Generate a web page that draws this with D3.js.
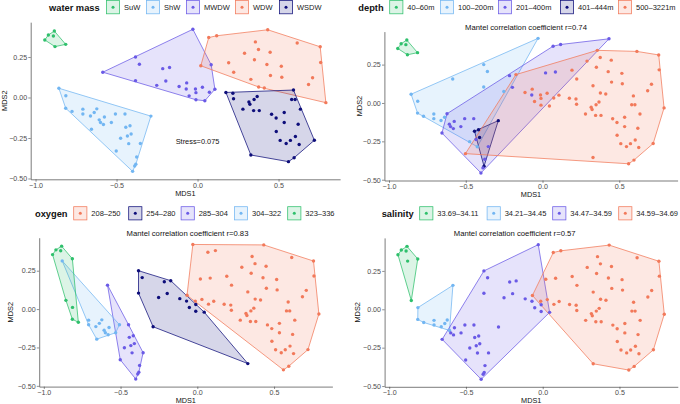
<!DOCTYPE html>
<html><head><meta charset="utf-8">
<script src="https://cdn.jsdelivr.net/npm/d3@7"></script>
<style>body{margin:0;background:#fff}svg{display:block;font-family:"Liberation Sans",Arial,Helvetica,sans-serif}</style>
</head><body><svg id="c" width="680" height="404"></svg>
<script>
// ---- data: NMDS coordinates (same sample set in all four panels) ----
const mds1 = [
 -0.943,-0.921,-0.890,-0.884,-0.880,-0.814,
 -0.856,-0.813,-0.814,-0.775,-0.708,-0.708,-0.661,-0.638,-0.622,-0.607,-0.599,-0.575,-0.581,-0.532,-0.507,
 -0.448,-0.655,-0.443,-0.417,-0.410,-0.433,-0.475,-0.425,-0.353,-0.288,-0.502,-0.376,-0.381,-0.388,-0.401,
 -0.029,-0.383,-0.359,-0.585,-0.215,-0.173,-0.383,-0.252,-0.196,-0.114,-0.067,-0.070,-0.013,0.030,0.084,
 0.107,0.073,-0.052,-0.010,0.045,-0.010,
 0.020,0.069,0.118,0.433,0.615,0.757,0.760,0.357,0.376,0.290,0.448,0.351,0.428,0.517,0.192,0.223,0.450,
 0.520,0.329,0.710,0.685,0.377,0.412,0.792,
 0.175,0.218,0.222,0.317,0.323,0.349,0.368,0.280,0.346,0.381,0.457,0.485,0.535,0.535,0.592,0.581,0.602,
 0.635,0.621,0.486,0.510,0.547,0.573,0.604,0.627,0.721,0.596,0.561,0.329
];
const mds2 = [
 0.355,0.386,0.380,0.410,0.314,0.328,
 0.057,0.011,-0.066,-0.086,-0.072,-0.102,-0.114,-0.093,-0.070,-0.138,-0.154,-0.120,-0.167,-0.154,-0.102,
 -0.102,-0.196,-0.184,-0.174,-0.225,-0.238,-0.252,-0.285,-0.284,-0.115,-0.330,-0.367,-0.412,-0.423,-0.456,
 0.421,0.250,0.205,0.156,0.178,0.185,0.104,0.075,0.102,0.068,0.090,0.052,0.052,0.063,0.202,
 0.051,0.032,0.010,0.030,-0.020,-0.014,
 0.196,0.370,0.381,0.418,0.336,0.313,0.216,0.343,0.296,0.273,0.279,0.233,0.204,0.193,0.214,0.156,0.136,
 0.125,0.112,0.122,0.080,0.065,0.059,-0.032,
 0.031,0.026,-0.008,-0.028,-0.042,-0.012,0.006,-0.072,-0.081,-0.081,-0.103,-0.127,-0.093,-0.154,0.046,-0.012,-0.012,
 -0.072,-0.165,-0.210,-0.265,-0.284,-0.265,-0.241,-0.290,-0.264,-0.372,-0.396,-0.355
];
// group memberships (index into the level arrays)
const waterMass = [
 0,0,0,0,0,0,
 1,1,1,1,1,1,1,1,1,1,1,1,1,1,1,1,1,1,1,1,1,1,1,1,1,1,1,1,1,1,
 2,2,2,2,2,2,2,2,2,2,2,2,2,2,2,2,2,2,2,2,2,
 3,3,3,3,3,3,3,3,3,3,3,3,3,3,3,3,3,3,3,3,3,3,3,3,
 4,4,4,4,4,4,4,4,4,4,4,4,4,4,4,4,4,4,4,4,4,4,4,4,4,4,4,4,4
];
const depth = [
 0,0,0,0,0,0,
 1,1,1,1,1,1,1,1,2,2,2,2,2,2,2,2,2,3,3,3,2,1,1,2,3,4,2,3,2,2,
 1,1,1,1,2,4,1,1,2,4,4,2,4,4,2,4,4,4,4,4,4,
 2,2,2,2,4,4,4,4,4,4,4,4,4,4,4,4,4,4,4,4,4,4,4,4,
 4,4,4,4,4,4,4,4,4,4,4,4,4,4,4,4,4,4,4,4,4,4,4,4,4,4,4,4,4
];
const oxygen = [
 4,4,4,4,3,4,
 4,4,4,4,3,3,3,3,3,3,3,3,3,3,3,2,3,2,2,2,2,2,2,2,1,2,2,2,2,2,
 0,1,1,2,1,1,1,1,1,1,0,1,0,0,0,0,0,1,1,1,1,
 0,0,0,0,0,0,0,0,0,0,0,0,0,0,0,0,0,0,0,0,0,0,0,0,
 0,0,0,0,0,0,0,0,0,0,0,0,0,0,0,0,0,0,0,0,0,0,0,0,0,0,0,0,1
];
const salinity = [
 0,0,0,0,0,0,
 0,1,1,1,1,1,1,1,1,1,2,2,2,2,2,2,2,2,2,2,2,2,2,2,2,2,2,2,2,2,
 2,2,2,1,2,2,2,2,2,2,3,2,3,3,3,3,3,2,2,2,2,
 3,3,3,3,3,3,3,3,3,3,3,3,3,3,3,3,3,3,3,3,3,3,3,3,
 3,3,3,3,3,3,3,3,3,3,3,3,3,3,3,3,3,3,3,3,3,3,3,3,3,3,3,3,3
];
const waterMassLevels = ["SuW","ShW","MWDW","WDW","WSDW"];
const depthLevels = ["40–60m","100–200m","201–400m","401–444m","500–3221m"];
const oxygenLevels = ["208–250","254–280","285–304","304–322","323–336"];
const salinityLevels = ["33.69–34.11","34.21–34.45","34.47–34.59","34.59–34.69"];
const mantelR = [0.74, 0.83, 0.57];   // depth, oxygen, salinity
const stressValue = 0.075;
const xTicks = [-1.0, -0.5, 0.0, 0.5];
const yTicks = [-0.50, -0.25, 0.00, 0.25];

// ---- styling / layout ----
const COL = {green:"#2fc06c", lblue:"#72b6f2", purple:"#6a5ae6", orange:"#f2795a", navy:"#0e0e7a"};
const FONT = '"Liberation Sans",Arial,Helvetica,sans-serif';
const panels = [
 {title:"water mass", levels:waterMassLevels, groups:waterMass,
  colors:[COL.green,COL.lblue,COL.purple,COL.orange,COL.navy],
  L:30.7, B:179.3, k:162, titleX:49, keyX:[106,146,186,235,279], legY:7.2,
  sub:null, subX:0, subY:0, yTitleX:6.5},
 {title:"depth", levels:depthLevels, groups:depth,
  colors:[COL.green,COL.lblue,COL.purple,COL.navy,COL.orange],
  L:384.4, B:180.5, k:153.5, titleX:358.3, keyX:[389.3,440,498,560,618], legY:7.2,
  sub:"Mantel correlation coefficient r=" + mantelR[0], subX:526, subY:29.5, yTitleX:362},
 {title:"oxygen", levels:oxygenLevels, groups:oxygen,
  colors:[COL.orange,COL.navy,COL.purple,COL.lblue,COL.green],
  L:39.2, B:386.6, k:153.5, titleX:35, keyX:[73.3,128.3,180.7,234,287.3], legY:213.3,
  sub:"Mantel correlation coefficient r=" + mantelR[1], subX:187.5, subY:236, yTitleX:13.4},
 {title:"salinity", levels:salinityLevels, groups:salinity,
  colors:[COL.green,COL.lblue,COL.purple,COL.orange],
  L:384.6, B:386.8, k:153.5, titleX:381.7, keyX:[419.3,486.7,552.3,618.3], legY:213.3,
  sub:"Mantel correlation coefficient r=" + mantelR[2], subX:514.7, subY:236, yTitleX:359.5}
];
const XD = [-1.03, 0.88], YD = [-0.505, 0.465];
const svg = d3.select("#c");

panels.forEach((p, pi) => {
  const x = d3.scaleLinear().domain(XD).range([p.L, p.L + (XD[1]-XD[0])*p.k]);
  const y = d3.scaleLinear().domain(YD).range([p.B, p.B - (YD[1]-YD[0])*p.k]);
  const g = svg.append("g");
  const pts = mds1.map((v,i) => ({x:v, y:mds2[i], g:p.groups[i]}));

  // hulls
  p.levels.forEach((lev, li) => {
    const coords = pts.filter(d => d.g === li).map(d => [x(d.x), y(d.y)]);
    const hull = coords.length >= 3 ? d3.polygonHull(coords) : coords;
    g.append("path").attr("d", "M" + hull.join("L") + "Z")
      .attr("fill", p.colors[li]).attr("fill-opacity", 0.17)
      .attr("stroke", p.colors[li]).attr("stroke-width", 0.75).attr("stroke-linejoin","round");
  });
  // points
  g.selectAll("circle.pt").data(pts).join("circle").attr("class","pt")
    .attr("cx", d => x(d.x)).attr("cy", d => y(d.y)).attr("r", 1.7)
    .attr("fill", d => p.colors[d.g]);

  // axes
  const fmtX = d3.format(".1f"), fmtY = d3.format(".2f");
  const ax = g.append("g").attr("transform", `translate(0,${p.B})`)
    .call(d3.axisBottom(x).tickValues(xTicks).tickSize(2.4).tickSizeOuter(0).tickPadding(0.8).tickFormat(fmtX));
  const ay = g.append("g").attr("transform", `translate(${p.L},0)`)
    .call(d3.axisLeft(y).tickValues(yTicks).tickSize(2.4).tickSizeOuter(0).tickPadding(1.2).tickFormat(fmtY));
  [ax, ay].forEach(a => {
    a.select(".domain").attr("stroke", "#444").attr("stroke-width", 0.7);
    a.selectAll(".tick line").attr("stroke", "#444").attr("stroke-width", 0.6);
    a.selectAll(".tick text").attr("fill", "#4d4d4d").style("font-size", "7.1px").style("font-family", FONT);
  });
  ax.selectAll(".tick text").attr("dy", "0.71em");

  // axis titles
  g.append("text").attr("x", (x.range()[0]+x.range()[1])/2).attr("y", p.B + 16.4)
    .attr("text-anchor","middle").style("font-size","7.3px").attr("fill","#111").text("MDS1");
  g.append("text").attr("transform", `translate(${p.yTitleX},${(y.range()[0]+y.range()[1])/2}) rotate(-90)`)
    .attr("text-anchor","middle").style("font-size","7.4px").attr("fill","#111").text("MDS2");

  // subtitle / annotation
  if (p.sub) g.append("text").attr("x", p.subX).attr("y", p.subY).attr("text-anchor","middle")
    .style("font-size","7.7px").attr("fill","#111").text(p.sub);
  if (pi === 0) g.append("text").attr("x", x(0)).attr("y", y(-0.27) + 2.7).attr("text-anchor","middle")
    .style("font-size","7.4px").attr("fill","#111").text("Stress=" + stressValue);

  // legend
  const lg = svg.append("g");
  lg.append("text").attr("x", p.titleX).attr("y", p.legY + 3.3).style("font-size","9.3px")
    .style("font-weight","bold").attr("fill","#111").text(p.title);
  p.levels.forEach((lev, li) => {
    const kx = p.keyX[li];
    lg.append("rect").attr("x", kx+0.4).attr("y", p.legY-6.6).attr("width", 13.2).attr("height", 13.2)
      .attr("fill", p.colors[li]).attr("fill-opacity", 0.17)
      .attr("stroke", p.colors[li]).attr("stroke-width", 0.75);
    lg.append("circle").attr("cx", kx+7).attr("cy", p.legY).attr("r", 1.5).attr("fill", p.colors[li]);
    lg.append("text").attr("x", kx+18).attr("y", p.legY+2.7).style("font-size","7.5px")
      .attr("fill","#222").text(lev);
  });
});
</script></body></html>
